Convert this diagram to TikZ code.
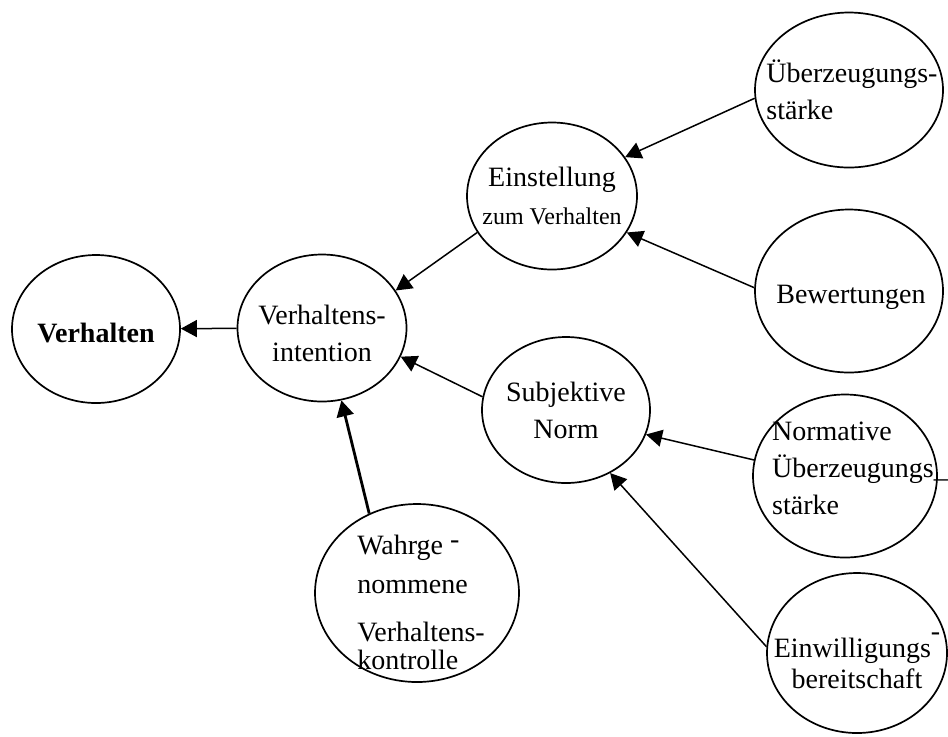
\documentclass[tikz,border=0pt]{standalone}
\usepackage{fontspec}
\setmainfont{Liberation Serif}
\usetikzlibrary{shapes.geometric,arrows.meta}

\tikzset{
  bub/.style={draw, ellipse, line width=0.85pt, inner sep=0pt},
  txt/.style={align=center, font=\fontsize{14}{18.5}\selectfont},
  arr/.style={line width=0.75pt, -{Triangle[length=8pt,width=8.5pt]}}
}

\begin{document}
\begin{tikzpicture}[x=0.5pt,y=-0.5pt]
  \useasboundingbox (0,0) rectangle (948,736);

  % ellipses
  \node[bub, minimum width=84pt, minimum height=74pt,
        label={[txt, yshift=-2pt]center:\textbf{Verhalten}}] (verh) at (96,329) {};
  \node[bub, minimum width=84.5pt, minimum height=73.5pt,
        label={[txt, yshift=-2.5pt]center:Verhaltens-\\intention}] (intent) at (322,328) {};
  \node[bub, minimum width=85pt, minimum height=73.5pt,
        label={[txt]center:Einstellung\\[0.5pt]{\fontsize{12}{14}\selectfont zum Verhalten}}] (einst) at (552,196) {};
  \node[bub, minimum width=94pt, minimum height=77.5pt,
        label={[txt, align=left, xshift=1.5pt]center:Überzeugungs-\\stärke}] (ueber) at (849,90) {};
  \node[bub, minimum width=94pt, minimum height=81.5pt,
        label={[txt, xshift=1pt, yshift=-3pt]center:Bewertungen}] (bew) at (849,291) {};
  \node[bub, minimum width=84pt, minimum height=73pt,
        label={[txt]center:Subjektive\\Norm}] (subj) at (566,410) {};
  \node[bub, minimum width=92pt, minimum height=81.5pt,
        label={[txt, align=left, xshift=7.5pt, yshift=4pt]center:Normative\\Überzeugungs\_\\stärke}] (norm) at (845,476) {};
  \node[bub, minimum width=90pt, minimum height=80pt,
        label={[txt, yshift=-4pt]center:Einwilligungs\raisebox{1.3ex}{-}\\[-3pt]bereitschaft}] (einw) at (857,653) {};
  \node[bub, minimum width=102pt, minimum height=89pt,
        label={[txt, align=left, xshift=2pt, yshift=-4.5pt]center:Wahrge \raisebox{0.4ex}{-}\\[1pt]nommene\\[5.5pt]Verhaltens-\\[-4.5pt]kontrolle}] (wahr) at (417,593) {};

  % arrows
  \draw[arr] (intent) -- (verh);
  \draw[arr] (einst.206) -- (intent.27);
  \draw[arr] (subj.171) -- (intent.340);
  \draw[arr, line width=1.4pt] (wahr.121) -- (intent.285);
  \draw[arr] (ueber.185) -- (einst.28);
  \draw[arr] (bew.178) -- (einst.334);
  \draw[arr] (norm.170) -- (subj.343);
  \draw[arr] (einw.176) -- (subj.305);
\end{tikzpicture}
\end{document}
